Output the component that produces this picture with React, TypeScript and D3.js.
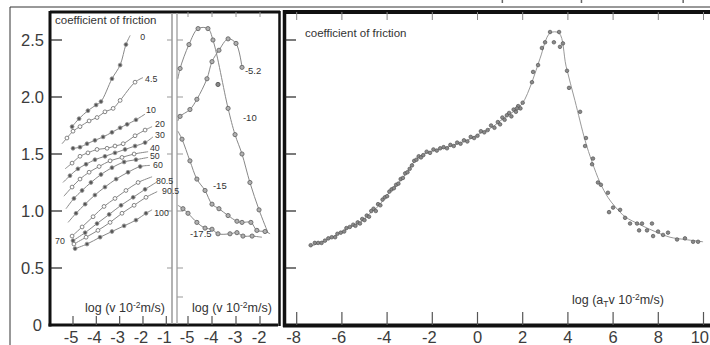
import React from "react";
import * as d3 from "d3";

// ---------- axis data ----------
const yTickVals = [0, 0.5, 1.0, 1.5, 2.0, 2.5];
const yTickLabels = ["0", "0.5", "1.0", "1.5", "2.0", "2.5"];
const leftXTicks = [-5, -4, -3, -2, -1];
const midXTicks = [-5, -4, -3, -2];
const rightXTicks = [-8, -6, -4, -2, 0, 2, 4, 6, 8, 10];
const topRemnantTicks = [1.1, 4.6, 9.1];

// ---------- left panel: temperature curves [x, y, marker?] ----------
const c0 = [[-5.04, 1.74], [-4.74, 1.81], [-4.36, 1.88], [-4.01, 1.93], [-3.8, 1.96], [-3.33, 2.16], [-2.98, 2.28], [-2.73, 2.46], [-2.55, 2.54, 0]];
const c45 = [[-5.47, 1.59, 0], [-5.26, 1.64], [-5.0, 1.7], [-4.7, 1.74], [-4.31, 1.79], [-3.97, 1.82], [-3.63, 1.87], [-3.28, 1.9], [-2.98, 1.97], [-2.34, 2.13], [-2.0, 2.17, 0]];
const c10 = [[-5.0, 1.55], [-4.7, 1.56], [-4.4, 1.59], [-4.06, 1.62], [-3.71, 1.65], [-3.33, 1.69], [-2.98, 1.73], [-2.68, 1.76], [-2.3, 1.8], [-1.91, 1.85, 0]];
const c20 = [[-5.34, 1.37, 0], [-5.04, 1.42], [-4.7, 1.48], [-4.36, 1.51], [-3.97, 1.54], [-3.54, 1.55], [-3.2, 1.57], [-2.85, 1.59], [-2.34, 1.66], [-1.91, 1.71], [-1.61, 1.74, 0]];
const c30 = [[-5.43, 1.25, 0], [-5.13, 1.31], [-4.79, 1.37], [-4.44, 1.41], [-4.06, 1.45], [-3.63, 1.48], [-3.2, 1.51], [-2.77, 1.54], [-2.34, 1.57], [-1.91, 1.6], [-1.57, 1.65, 0]];
const c40 = [[-5.39, 1.13, 0], [-5.04, 1.21], [-4.7, 1.28], [-4.31, 1.34], [-3.88, 1.39], [-3.41, 1.44], [-2.9, 1.47], [-2.38, 1.5], [-1.78, 1.52, 0]];
const c50 = [[-5.3, 1.02, 0], [-4.96, 1.11], [-4.61, 1.18], [-4.23, 1.25], [-3.8, 1.32], [-3.33, 1.38], [-2.81, 1.43], [-2.3, 1.45], [-1.78, 1.47, 0]];
const c60 = [[-5.21, 0.9, 0], [-4.87, 0.98], [-4.48, 1.06], [-4.06, 1.14], [-3.63, 1.21], [-3.15, 1.28], [-2.64, 1.34], [-2.12, 1.39], [-1.7, 1.4, 0]];
const c70 = [[-5.04, 0.78], [-4.61, 0.86], [-4.14, 0.95], [-3.67, 1.04], [-3.2, 1.11], [-2.73, 1.18], [-2.21, 1.25], [-1.61, 1.3, 0]];
const c805 = [[-5.0, 0.74], [-4.48, 0.81], [-3.97, 0.89], [-3.45, 0.97], [-2.94, 1.05], [-2.42, 1.12], [-1.91, 1.19], [-1.44, 1.25, 0]];
const c905 = [[-4.96, 0.71], [-4.44, 0.77], [-3.93, 0.83], [-3.41, 0.9], [-2.9, 0.98], [-2.38, 1.05], [-1.87, 1.12], [-1.39, 1.17, 0]];
const c100 = [[-4.91, 0.67], [-4.4, 0.71], [-3.84, 0.77], [-3.33, 0.82], [-2.81, 0.87], [-2.3, 0.92], [-1.87, 0.98], [-1.61, 1.01, 0]];

const leftCurves = [c0, c45, c10, c20, c30, c40, c50, c60, c70, c805, c905, c100];
const leftNames = ["0", "4.5", "10", "20", "30", "40", "50", "60", "70", "80.5", "90.5", "100"];
const leftFilled = [true, false, true, false, true, false, true, true, false, true, false, true];
const leftLabelX = [-2.12, -1.91, -1.87, -1.48, -1.48, -1.70, -1.70, -1.57, -5.77, -1.44, -1.18, -1.52];
const leftLabelY = [2.5, 2.13, 1.86, 1.74, 1.64, 1.53, 1.455, 1.38, 0.71, 1.24, 1.15, 0.96];

// ---------- middle panel: low temperature curves ----------
const m52 = [[-5.42, 1.79, 0], [-5.33, 1.83], [-4.92, 1.89], [-4.63, 1.98], [-4.21, 2.16], [-4.0, 2.31], [-3.71, 2.41], [-3.33, 2.51], [-3.0, 2.47], [-2.75, 2.26]];
const m10 = [[-5.42, 2.16, 0], [-5.33, 2.25], [-4.96, 2.46], [-4.58, 2.6], [-4.17, 2.6], [-3.96, 2.5], [-3.33, 1.9], [-3.04, 1.67], [-2.75, 1.5], [-2.42, 1.25], [-2.04, 1.01], [-1.67, 0.81, 0]];
const m15 = [[-5.42, 1.7, 0], [-5.25, 1.63], [-4.92, 1.44], [-4.63, 1.28], [-4.29, 1.18], [-4.0, 1.06], [-3.71, 1.02], [-3.33, 0.96], [-2.96, 0.91], [-2.75, 0.9], [-2.38, 0.9], [-2.13, 0.83], [-1.79, 0.82], [-1.58, 0.8, 0]];
const m175 = [[-5.42, 1.05, 0], [-5.21, 1.02], [-5.0, 0.98], [-4.63, 0.9], [-4.29, 0.85], [-4.0, 0.84], [-3.75, 0.8], [-3.25, 0.8], [-2.96, 0.81], [-2.71, 0.78], [-2.33, 0.78], [-1.92, 0.77, 0]];
const midExtraPts = [[-3.75, 2.11]];
const midCurves = [m52, m10, m15, m175];
const midNames = ["-5.2", "-10", "-15", "-17.5"];
const midLabelX = [-2.63, -2.71, -3.96, -4.92];
const midLabelY = [2.2, 1.79, 1.19, 0.77];

// ---------- right panel: master curve ----------
const masterLine = [[-7.41, 0.69], [-6.84, 0.73], [-6.22, 0.79], [-5.64, 0.86], [-5.11, 0.91], [-4.76, 0.98], [-4.4, 1.04], [-3.96, 1.15], [-3.52, 1.24], [-3.12, 1.34], [-2.85, 1.42], [-2.54, 1.48], [-2.1, 1.52], [-1.35, 1.56], [-0.46, 1.62], [0.11, 1.68], [0.69, 1.74], [1.0, 1.79], [1.44, 1.85], [1.97, 1.94], [2.41, 2.13], [2.77, 2.34], [3.21, 2.56], [3.61, 2.56], [3.92, 2.27], [4.31, 1.97], [4.76, 1.62], [5.07, 1.43], [5.42, 1.25], [5.77, 1.12], [6.08, 1.04], [6.53, 0.95], [7.19, 0.88], [7.85, 0.82], [8.52, 0.77], [9.18, 0.75], [9.98, 0.73]];
const masterPtsX = [-7.38, -7.2, -7.05, -6.9, -6.75, -6.6, -6.45, -6.3, -6.2, -6.05, -5.9, -5.8, -5.65, -5.5, -5.4, -5.3, -5.2, -5.1, -5.0, -4.9, -4.8, -4.7, -4.6, -4.5, -4.4, -4.3, -4.2, -4.1, -4.0, -3.9, -3.8, -3.7, -3.6, -3.5, -3.4, -3.3, -3.2, -3.1, -3.0, -2.9, -2.8, -2.7, -2.6, -2.5,
  -2.4, -2.25, -2.1, -1.95, -1.8, -1.65, -1.5, -1.35, -1.2, -1.05, -0.9, -0.75, -0.6, -0.45, -0.3, -0.15, 0, 0.15, 0.3, 0.45, 0.6, 0.75, 0.9, 1.0, 1.1, 1.2, 1.3, 1.4, 1.5, 1.6, 1.7, 1.8, 1.9, 2.0,
  1.75, 2.41, 2.46, 2.68, 2.85, 2.99, 3.21, 3.38, 3.61, 3.65, 3.78, 3.96, 4.05, 4.54, 4.8, 4.76, 5.11, 5.07,
  5.33, 5.46, 5.77, 5.82, 6.0, 6.31, 6.53, 6.75, 7.06, 7.28, 7.15, 7.5, 7.72, 7.77, 7.99, 8.21, 8.43, 8.83, 9.18, 9.54, 9.76];
const masterPtsY = [0.7, 0.72, 0.72, 0.72, 0.74, 0.76, 0.77, 0.77, 0.8, 0.81, 0.82, 0.85, 0.86, 0.88, 0.87, 0.9, 0.89, 0.93, 0.92, 0.96, 0.95, 1.0, 1.02, 1.0, 1.06, 1.05, 1.1, 1.12, 1.13, 1.17, 1.19, 1.2, 1.23, 1.24, 1.28, 1.29, 1.33, 1.34, 1.37, 1.4, 1.44, 1.45, 1.48, 1.47,
  1.49, 1.52, 1.51, 1.54, 1.53, 1.55, 1.56, 1.55, 1.58, 1.57, 1.6, 1.59, 1.62, 1.61, 1.65, 1.64, 1.66, 1.7, 1.69, 1.71, 1.75, 1.73, 1.78, 1.76, 1.82, 1.8, 1.84, 1.86, 1.83, 1.89, 1.87, 1.92, 1.9, 1.95,
  1.9, 2.13, 2.22, 2.28, 2.43, 2.48, 2.57, 2.48, 2.57, 2.44, 2.47, 2.23, 2.08, 1.87, 1.64, 1.57, 1.46, 1.41,
  1.25, 1.23, 1.16, 0.99, 1.03, 1.01, 0.94, 0.89, 0.89, 0.89, 0.83, 0.83, 0.89, 0.78, 0.82, 0.79, 0.81, 0.75, 0.76, 0.73, 0.73];

// ---------- scales ----------
const yS = d3.scaleLinear().domain([0, 2.5]).range([325, 40]);
const leftX = d3.scaleLinear().domain([-5, -1]).range([73, 166.3]);
const midX = d3.scaleLinear().domain([-5, -2]).range([188, 260]);
const rightX = d3.scaleLinear().domain([-8, 10]).range([296.7, 703.5]);

const FONT = "'Liberation Sans', Arial, Helvetica, sans-serif";
const TXT = "#3c3c3c";

function mkLine(sx: any) {
  return d3
    .line<number[]>()
    .x((d) => sx(d[0]))
    .y((d) => yS(d[1]))
    .curve(d3.curveCatmullRom.alpha(0.5));
}

export default function App() {
  const lLine = mkLine(leftX);
  const mLine = mkLine(midX);
  const rLine = mkLine(rightX);
  return (
    <svg
      width={710}
      height={345}
      viewBox="0 0 710 345"
      style={{ position: "absolute", left: 0, top: 0, display: "block", background: "#fff" }}
      fontFamily={FONT}
    >
      <defs>
        <clipPath id="clipL"><rect x={51} y={13} width={120} height={311} /></clipPath>
        <clipPath id="clipM"><rect x={177} y={13} width={101} height={311} /></clipPath>
        <clipPath id="clipR"><rect x={286} y={14} width={424} height={310} /></clipPath>
      </defs>
      <rect x={0} y={0} width={710} height={345} fill="#fff" />

      {/* outer page border */}
      <line x1={10} y1={7} x2={710} y2={7} stroke="#333" strokeWidth={1} />
      <line x1={10} y1={7} x2={10} y2={345} stroke="#333" strokeWidth={1} />
      {topRemnantTicks.map((v, i) => (
        <line key={"tr" + i} x1={rightX(v)} y1={0} x2={rightX(v)} y2={3} stroke="#666" strokeWidth={1.5} />
      ))}

      {/* ===== left + middle frame ===== */}
      <line x1={50} y1={11} x2={50} y2={326.5} stroke="#111" strokeWidth={3} />
      <line x1={50} y1={12} x2={280} y2={12} stroke="#111" strokeWidth={3} />
      <line x1={48.5} y1={325} x2={278} y2={325} stroke="#111" strokeWidth={3} />
      <line x1={279.5} y1={11} x2={279.5} y2={326} stroke="#111" strokeWidth={2.5} />
      <line x1={172} y1={13} x2={172} y2={324} stroke="#999" strokeWidth={1.5} />
      <line x1={177} y1={13} x2={177} y2={324} stroke="#aaa" strokeWidth={1.5} />

      {/* left y ticks & labels */}
      {yTickVals.map((v, i) => (
        <g key={"ly" + i}>
          {v > 0 && <line x1={50} y1={yS(v)} x2={62} y2={yS(v)} stroke="#222" strokeWidth={1.2} />}
          {v > 0 && <line x1={167} y1={yS(v)} x2={172} y2={yS(v)} stroke="#999" strokeWidth={1} />}
          {v > 0 && <line x1={177} y1={yS(v)} x2={183} y2={yS(v)} stroke="#999" strokeWidth={1} />}
          <text x={i === 0 ? 42 : 44} y={yS(v) + 6} fontSize={16.5} textAnchor="end" fill={TXT}>
            {yTickLabels[i]}
          </text>
        </g>
      ))}
      <line x1={177} y1={297} x2={183} y2={297} stroke="#999" strokeWidth={1} />

      {/* left x ticks */}
      {leftXTicks.map((v) => (
        <g key={"lx" + v}>
          <line x1={leftX(v)} y1={316} x2={leftX(v)} y2={325} stroke="#555" strokeWidth={1.2} />
          <text x={leftX(v) - 2} y={343} fontSize={16.5} textAnchor="middle" fill={TXT}>
            {String(v)}
          </text>
        </g>
      ))}
      {/* middle x ticks */}
      {midXTicks.map((v) => (
        <g key={"mx" + v}>
          <line x1={midX(v)} y1={316} x2={midX(v)} y2={325} stroke="#555" strokeWidth={1.2} />
          <line x1={midX(v)} y1={12} x2={midX(v)} y2={17} stroke="#999" strokeWidth={1} />
          <text x={midX(v) - 1} y={343} fontSize={16.5} textAnchor="middle" fill={TXT}>
            {String(v)}
          </text>
        </g>
      ))}

      {/* left curves */}
      <g clipPath="url(#clipL)">
        {leftCurves.map((c, i) => (
          <path key={"lc" + i} d={lLine(c) || ""} fill="none" stroke="#888" strokeWidth={1} />
        ))}
        {leftCurves.map((c, i) =>
          c
            .filter((p) => p.length < 3)
            .map((p, j) => (
              <circle
                key={"lp" + i + "_" + j}
                cx={leftX(p[0])}
                cy={yS(p[1])}
                r={1.9}
                fill={leftFilled[i] ? "#555" : "#fff"}
                stroke={leftFilled[i] ? "#999" : "#777"}
                strokeWidth={0.9}
              />
            ))
        )}
      </g>
      {leftNames.map((n, i) => (
        <text key={"ln" + i} x={leftX(leftLabelX[i])} y={yS(leftLabelY[i])} fontSize={8.8} fill="#333">
          {n}
        </text>
      ))}

      {/* middle curves */}
      <g clipPath="url(#clipM)">
        {midCurves.map((c, i) => (
          <path key={"mc" + i} d={mLine(c) || ""} fill="none" stroke="#888" strokeWidth={1} />
        ))}
        {midCurves.map((c, i) =>
          c
            .filter((p) => p.length < 3)
            .map((p, j) => (
              <circle key={"mp" + i + "_" + j} cx={midX(p[0])} cy={yS(p[1])} r={2.1} fill="#b0b0b0" stroke="#666" strokeWidth={0.9} />
            ))
        )}
        {midExtraPts.map((p, j) => (
          <circle key={"me" + j} cx={midX(p[0])} cy={yS(p[1])} r={2.1} fill="#888" stroke="#555" strokeWidth={0.9} />
        ))}
      </g>
      {midNames.map((n, i) => (
        <text key={"mn" + i} x={midX(midLabelX[i])} y={yS(midLabelY[i])} fontSize={9.5} fill="#333">
          {n}
        </text>
      ))}

      <text x={55} y={23.5} fontSize={11.5} fill="#333">coefficient of friction</text>
      <text x={85} y={312} fontSize={12.5} fill="#333">
        log (v 10<tspan dy={-4} fontSize={8.5}>-2</tspan><tspan dy={4}>m/s)</tspan>
      </text>
      <text x={192} y={312} fontSize={12.5} fill="#333">
        log (v 10<tspan dy={-4} fontSize={8.5}>-2</tspan><tspan dy={4}>m/s)</tspan>
      </text>

      {/* ===== right panel ===== */}
      <line x1={284.5} y1={10} x2={284.5} y2={327} stroke="#111" strokeWidth={3.5} />
      <line x1={284} y1={12} x2={710} y2={12} stroke="#111" strokeWidth={4} />
      <line x1={283} y1={325.5} x2={710} y2={325.5} stroke="#111" strokeWidth={4} />
      {yTickVals.filter((v) => v > 0).map((v) => (
        <line key={"ry" + v} x1={285} y1={yS(v)} x2={296} y2={yS(v)} stroke="#222" strokeWidth={1.2} />
      ))}
      {rightXTicks.map((v) => (
        <g key={"rx" + v}>
          <line x1={rightX(v)} y1={312} x2={rightX(v)} y2={325} stroke="#555" strokeWidth={1.2} />
          <line x1={rightX(v)} y1={12} x2={rightX(v)} y2={20} stroke="#888" strokeWidth={1} />
          <text
            x={v === 10 ? 709 : rightX(v) - (v < 0 ? 3 : 0)}
            y={343}
            fontSize={16.5}
            textAnchor={v === 10 ? "end" : "middle"}
            fill={TXT}
          >
            {String(v)}
          </text>
        </g>
      ))}
      <g clipPath="url(#clipR)">
        <path d={rLine(masterLine) || ""} fill="none" stroke="#999" strokeWidth={1} />
        {masterPtsX.map((x, i) => (
          <circle key={"rp" + i} cx={rightX(x)} cy={yS(masterPtsY[i])} r={1.8} fill="#8a8a8a" stroke="#555" strokeWidth={0.7} />
        ))}
      </g>
      <text x={305} y={37} fontSize={11.5} fill="#333">coefficient of friction</text>
      <text x={572} y={304} fontSize={12.5} fill="#333">
        log (a<tspan dy={3} fontSize={8.5}>T</tspan><tspan dy={-3}>v 10</tspan>
        <tspan dy={-4} fontSize={8.5}>-2</tspan><tspan dy={4}>m/s)</tspan>
      </text>
    </svg>
  );
}
